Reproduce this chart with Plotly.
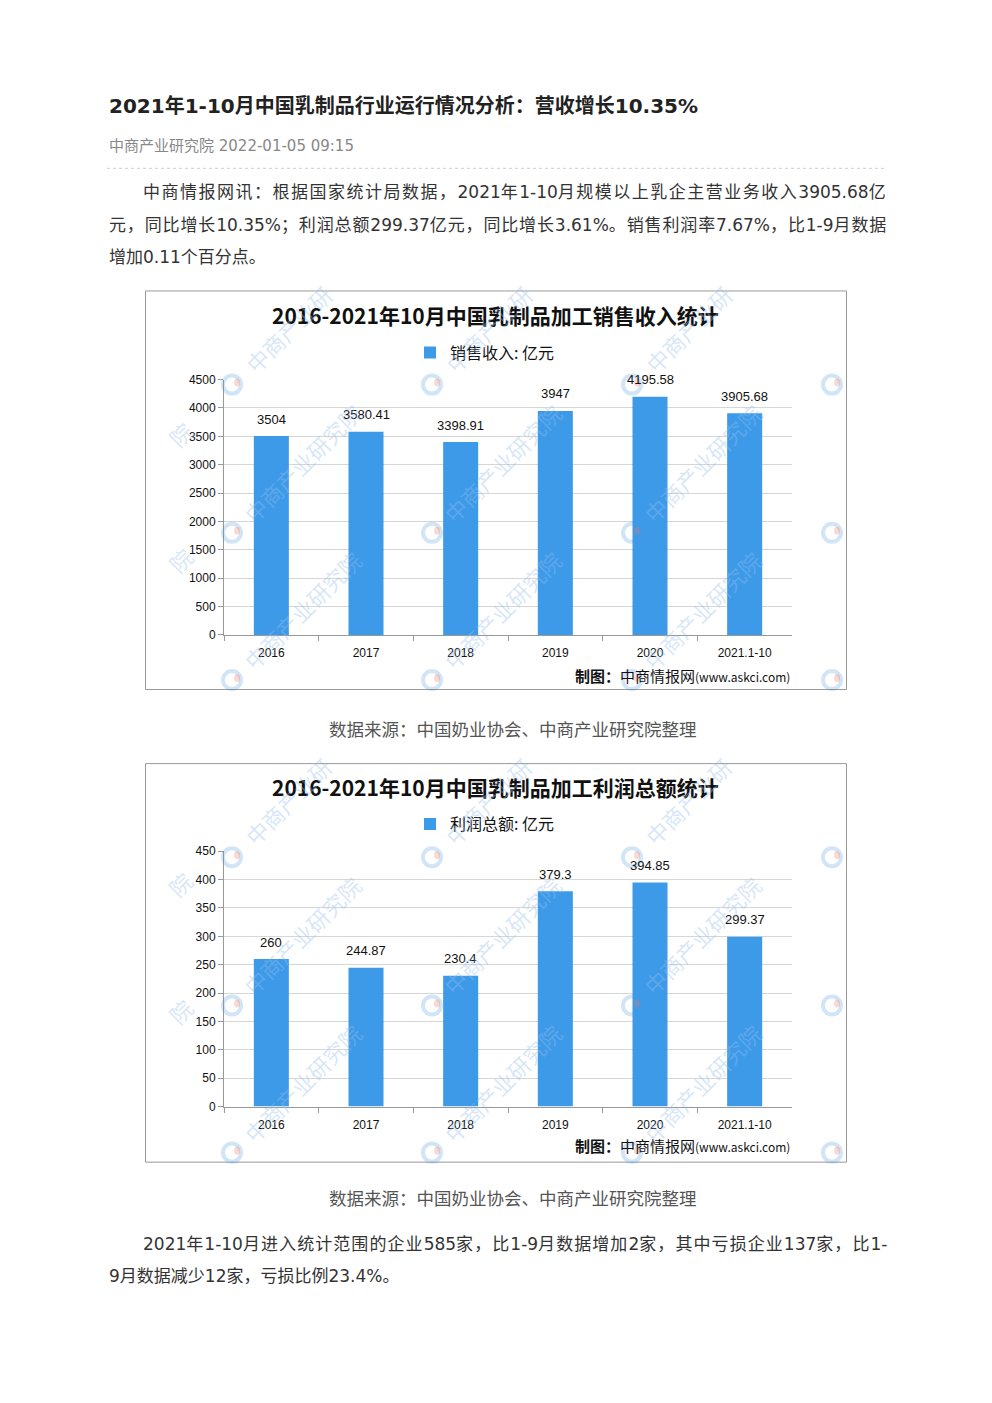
import re
import plotly.graph_objects as go

W, H = 992, 1403
# small vertical calibration observed between intended and photographed positions
Y_OFF, Y_SCALE = 7.9, 0.9887


def px(x):
    return x / W


def py(y):
    return 1 - ((y - Y_OFF) / Y_SCALE) / H


# ---------------- data ----------------
categories = ["2016", "2017", "2018", "2019", "2020", "2021.1-10"]
revenue = [3504, 3580.41, 3398.91, 3947, 4195.58, 3905.68]
revenue_labels = ["3504", "3580.41", "3398.91", "3947", "4195.58", "3905.68"]
profit = [260, 244.87, 230.4, 379.3, 394.85, 299.37]
profit_labels = ["260", "244.87", "230.4", "379.3", "394.85", "299.37"]

revenue_title = "2016-2021年10月中国乳制品加工销售收入统计"
profit_title = "2016-2021年10月中国乳制品加工利润总额统计"
revenue_name = "销售收入: 亿元"
profit_name = "利润总额: 亿元"

article_title = "2021年1-10月中国乳制品行业运行情况分析：营收增长10.35%"
article_meta = "中商产业研究院 2022-01-05 09:15"
para1 = [
    "中商情报网讯：根据国家统计局数据，2021年1-10月规模以上乳企主营业务收入3905.68亿",
    "元，同比增长10.35%；利润总额299.37亿元，同比增长3.61%。销售利润率7.67%，比1-9月数据",
    "增加0.11个百分点。",
]
para2 = [
    "2021年1-10月进入统计范围的企业585家，比1-9月数据增加2家，其中亏损企业137家，比1-",
    "9月数据减少12家，亏损比例23.4%。",
]
source_text = "数据来源：中国奶业协会、中商产业研究院整理"
credit_text = "<b>制图：</b>中商情报网<span style='font-size:12px'>(www.askci.com)</span>"

BLUE = "#3d9ae9"
CJK = "Noto Sans CJK SC"
BODY = "DejaVu Sans, Noto Sans CJK SC"
NUM = "Liberation Sans"
WM = "rgba(150,190,235,0.38)"

fig = go.Figure()
fig.add_trace(go.Bar(x=categories, y=revenue, name=revenue_name, marker_color=BLUE,
                     marker_line_width=0, xaxis="x", yaxis="y", legend="legend",
                     hoverinfo="x+y"))
fig.add_trace(go.Bar(x=categories, y=profit, name=profit_name, marker_color=BLUE,
                     marker_line_width=0, xaxis="x2", yaxis="y2", legend="legend2",
                     hoverinfo="x+y"))

ann = []
shapes = []


def text(x, y, s, size=17, color="#333", anchor="left", family=BODY, **kw):
    ann.append(dict(x=px(x), y=py(y), xref="paper", yref="paper", text=s,
                    showarrow=False, xanchor=anchor, yanchor="middle",
                    font=dict(size=size, color=color, family=family), **kw))


def justify(s, sp):
    # widen only the CJK runs, like browser justification of Chinese text
    return re.sub(r"([^\x00-\x7f]+)",
                  lambda m: "<span style='letter-spacing:%.2fpx'>%s</span>" % (sp, m.group(1)), s)


# article text
text(107, 107, "<b>" + article_title + "</b>", size=20, color="#222")
text(107, 147, article_meta, size=15, color="#888")
shapes.append(dict(type="line", xref="paper", yref="paper", x0=px(107), x1=px(885),
                   y0=py(169), y1=py(169), line=dict(color="#cfcfcf", width=1, dash="3px,3px")))
text(141, 193, justify(para1[0], 1.5))
text(107, 226, justify(para1[1], 0.86))
text(107, 258, para1[2])
text(141, 1243, justify(para2[0], 1.07))
text(107, 1275, para2[1])
text(513, 728, source_text, size=17.5, color="#555", anchor="center", family=CJK)
text(513, 1197, source_text, size=17.5, color="#555", anchor="center", family=CJK)

# chart decorations
for off, foot, title, labels, values, yref in [(0, 676, revenue_title, revenue_labels, revenue, "y"),
                                               (472, 1145, profit_title, profit_labels, profit, "y2")]:
    shapes.append(dict(type="rect", xref="paper", yref="paper", x0=px(145.5), x1=px(846.5),
                       y0=py(291.5 + off), y1=py(689.5 + off), line=dict(color="#999", width=1)))
    text(495, 315 + off, "<b>" + title + "</b>", size=21, color="#111", anchor="center", family=CJK)
    text(792, foot, credit_text, size=15, color="#111", anchor="right", family=CJK)
    xr = "x" if yref == "y" else "x2"
    for i, (v, lab) in enumerate(zip(values, labels)):
        ann.append(dict(x=i, y=v, xref=xr, yref=yref, text=lab, showarrow=False,
                        yanchor="middle", yshift=17, font=dict(size=13, color="#111", family=NUM)))
    # watermarks
    for row, ly in enumerate([385, 533, 680]):
        for lx in [232, 432, 632, 832]:
            shapes.append(dict(type="circle", xref="paper", yref="paper",
                               x0=px(lx - 9), x1=px(lx + 9), y0=py(ly + off + 9), y1=py(ly + off - 9),
                               line=dict(color="rgba(70,150,225,0.25)", width=4)))
            shapes.append(dict(type="circle", xref="paper", yref="paper",
                               x0=px(lx + 2), x1=px(lx + 8), y0=py(ly + off + 2), y1=py(ly + off - 6),
                               fillcolor="rgba(240,120,90,0.28)", line=dict(width=0)))
            if lx == 832:
                continue
            s = "中商产业研" if row == 0 else "中商产业研究院"
            d = 48 if row == 0 else 62
            ann.append(dict(x=px(lx + 8 + d), y=py(ly + off - 8 - d), xref="paper", yref="paper",
                            text=s, showarrow=False, textangle=-45, xanchor="center", yanchor="middle",
                            font=dict(size=22, color=WM, family=CJK)))
        if row < 2:
            ann.append(dict(x=px(158), y=py(ly + off + 27), xref="paper", yref="paper",
                            text="院", showarrow=False, textangle=-45,
                            font=dict(size=22, color=WM, family=CJK)))

axis_common = dict(showline=True, linecolor="#999", linewidth=1, ticks="outside", ticklen=5,
                   tickcolor="#999", tickfont=dict(size=12, color="#111", family=NUM))
xcommon = dict(axis_common, type="category", tickson="boundaries", showgrid=False,
               range=[-0.5, len(categories) - 0.5], autorange=False, tickangle=0,
               ticklabelstandoff=7, domain=[px(224), px(792)], fixedrange=True)
ycommon = dict(axis_common, showgrid=True, gridcolor="#d6d6d6", zeroline=False, fixedrange=True)

fig.update_layout(
    width=W, height=H, margin=dict(l=0, r=0, t=0, b=0),
    paper_bgcolor="white", plot_bgcolor="white",
    bargap=0.63,
    font=dict(family=CJK),
    xaxis=dict(xcommon, anchor="y"),
    yaxis=dict(ycommon, anchor="x", domain=[py(635), py(380)], range=[0, 4500], dtick=500),
    xaxis2=dict(xcommon, anchor="y2"),
    yaxis2=dict(ycommon, anchor="x2", domain=[py(1106), py(851)], range=[0, 450], dtick=50),
    legend=dict(x=px(410), y=py(353), xanchor="left", yanchor="middle",
                bgcolor="rgba(0,0,0,0)", font=dict(size=16, color="#111", family=CJK)),
    legend2=dict(x=px(410), y=py(824), xanchor="left", yanchor="middle",
                 bgcolor="rgba(0,0,0,0)", font=dict(size=16, color="#111", family=CJK)),
    annotations=ann,
    shapes=shapes,
    showlegend=True,
)

fig.write_html("out.html", config={"displayModeBar": False})
